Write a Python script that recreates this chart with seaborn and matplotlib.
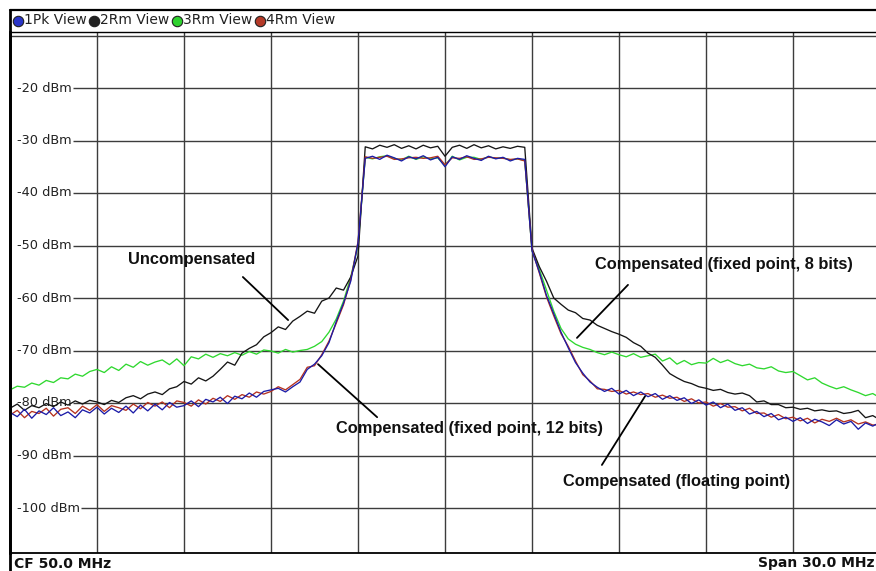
import numpy as np
import pandas as pd
import matplotlib
matplotlib.use("Agg")
import matplotlib.pyplot as plt
from matplotlib.lines import Line2D
import seaborn as sns

# Sweep: centre 50 MHz, span 30 MHz, one sample every 0.25 MHz
freq_mhz = np.round(np.arange(35.0, 65.0001, 0.25), 2)

# 1Pk View (blue) - compensated, floating point
trace_1pk = [
    -81.8, -82.6, -81.2, -82.9, -81.5, -82.2, -80.9, -82.4,
    -81.7, -82.8, -81.3, -81.9, -80.8, -82.1, -81.0, -81.8,
    -80.6, -81.9, -80.4, -81.5, -80.2, -81.3, -79.9, -80.8,
    -80.5, -79.6, -80.7, -79.3, -79.8, -78.9, -80.1, -78.7,
    -79.2, -78.1, -78.9, -77.8, -77.5, -77.2, -77.9, -76.9,
    -76.0, -73.6, -72.6, -71.0, -68.5, -64.5, -61.0, -56.8,
    -49.5, -33.4, -33.0, -33.6, -32.8, -33.3, -33.9, -33.1,
    -33.5, -32.9, -33.7, -33.2, -35.0, -33.1, -33.6, -32.9,
    -33.4, -33.8, -33.0, -33.5, -33.2, -33.9, -33.4, -33.6,
    -51.0, -55.0, -59.5, -63.0, -66.5, -69.5, -72.3, -74.3,
    -76.0, -77.0, -77.8, -77.2, -78.3, -77.6, -78.6, -77.9,
    -78.8, -78.2, -79.3, -78.6, -79.5, -79.0, -80.1, -79.4,
    -80.4, -79.8, -80.9, -80.2, -81.4, -80.9, -82.1, -81.6,
    -82.6, -82.0, -83.2, -82.7, -83.5, -82.8, -83.9, -83.1,
    -83.6, -84.3, -83.2, -84.0, -83.5, -85.0, -83.8, -84.4,
    -83.7,
]

# 2Rm View (black) - uncompensated
trace_2rm = [
    -81.0, -80.2, -81.4, -80.5, -80.9, -80.1, -80.7, -79.8,
    -80.4, -79.6, -80.2, -79.5, -79.8, -80.3, -79.5, -79.9,
    -79.0, -78.6, -79.2, -78.3, -77.9, -78.4, -77.3, -76.9,
    -75.9, -76.4, -75.2, -75.8, -74.9, -73.6, -72.2, -72.8,
    -70.5, -69.6, -68.9, -67.4, -66.6, -65.5, -66.0, -64.4,
    -63.5, -62.5, -62.9, -60.6, -60.0, -58.1, -58.5, -56.0,
    -52.0, -31.2, -31.6, -30.9, -31.3, -30.8, -31.5, -31.0,
    -31.6, -30.9, -31.4, -31.1, -33.0, -31.3, -30.9, -31.5,
    -30.8, -31.4, -31.0, -31.6, -31.2, -31.5, -31.1, -31.3,
    -50.5, -54.0, -56.8, -60.0, -61.2, -62.3, -62.8, -63.9,
    -64.2, -65.2, -65.8, -66.4, -66.9, -67.5, -68.5, -69.2,
    -70.5, -71.3, -72.8, -74.4, -75.2, -75.9, -76.3, -76.9,
    -77.2, -77.6, -77.4, -78.0, -78.3, -78.1, -78.6, -79.8,
    -79.6, -80.3, -80.3, -80.9, -80.8, -81.2, -81.0, -81.5,
    -81.3, -81.6, -81.5, -82.0, -81.8, -81.4, -82.8, -82.4,
    -83.2,
]

# 3Rm View (green) - compensated, fixed point 8 bits
trace_3rm = [
    -77.5, -76.8, -77.0, -76.2, -76.6, -75.7, -76.1, -75.2,
    -75.4, -74.5, -74.9, -74.0, -73.6, -74.2, -73.1, -73.8,
    -72.6, -73.2, -72.1, -72.8, -72.2, -71.8, -72.7, -71.6,
    -72.9, -71.2, -71.6, -70.7, -71.3, -70.6, -71.0, -70.4,
    -70.9, -70.2, -70.7, -69.9, -70.1, -70.5, -69.8, -70.3,
    -70.0, -69.8, -69.2, -68.3, -66.5, -64.0, -60.6, -56.0,
    -50.0, -33.2, -33.5, -33.1, -32.9, -33.4, -33.7, -33.0,
    -33.6, -33.1, -33.5, -33.3, -34.8, -33.0, -33.7, -33.2,
    -33.2, -33.6, -33.1, -33.4, -33.3, -33.7, -33.5, -33.8,
    -51.0, -54.5, -58.5, -62.5, -65.8, -67.8, -68.8, -69.4,
    -69.8, -70.4, -70.8, -70.3, -70.8, -71.2, -70.6, -71.3,
    -71.0, -70.7, -72.0, -71.4, -72.6, -71.9, -72.7, -72.3,
    -72.4, -71.5, -72.3, -71.8, -72.5, -72.9, -72.6, -73.3,
    -73.5, -73.1, -73.9, -74.2, -74.0, -74.8, -75.6, -75.2,
    -76.2, -76.8, -77.3, -76.9, -77.5, -78.0, -78.6, -78.2,
    -79.0,
]

# 4Rm View (red) - compensated, fixed point 12 bits
trace_4rm = [
    -82.3, -81.4, -82.8, -81.6, -82.0, -81.0, -82.5, -81.2,
    -80.9, -82.0, -80.6, -81.4, -80.3, -81.6, -80.5, -80.9,
    -81.4, -80.2, -81.1, -79.9, -80.6, -79.8, -80.9, -79.6,
    -79.9, -80.6, -79.4, -80.2, -79.1, -79.7, -78.6, -79.3,
    -78.4, -78.9, -77.9, -78.3, -77.8, -76.9, -77.5, -76.5,
    -75.5, -73.2, -72.9, -70.8, -68.2, -64.8, -61.3, -56.5,
    -49.3, -33.1, -33.4, -33.2, -33.0, -33.6, -33.5, -33.3,
    -33.2, -33.4, -33.3, -33.0, -34.6, -33.3, -33.4, -33.1,
    -33.6, -33.5, -33.2, -33.3, -33.4, -33.6, -33.5, -33.9,
    -50.8, -55.2, -59.8, -63.4, -66.8, -69.2, -72.0, -74.6,
    -75.8, -77.3, -77.4, -77.8, -77.6, -78.3, -77.9, -78.4,
    -78.2, -78.9, -78.5, -79.1, -78.9, -79.7, -79.2, -80.0,
    -79.8, -80.6, -80.1, -80.8, -80.7, -81.5, -81.0, -82.0,
    -81.9, -82.7, -82.2, -83.0, -82.7, -83.4, -82.9, -83.8,
    -83.1, -83.5, -82.9, -83.6, -83.2, -84.0, -83.6, -84.2,
    -84.1,
]

trace_names = ["1Pk View", "2Rm View", "3Rm View", "4Rm View"]
trace_colors = {"1Pk View": "#1c1ca8", "2Rm View": "#151515",
                "3Rm View": "#2fd82f", "4Rm View": "#b5321f"}
marker_colors = {"1Pk View": "#2a35c8", "2Rm View": "#222222",
                 "3Rm View": "#2ed22e", "4Rm View": "#b53a28"}

level_ticks = [-20, -30, -40, -50, -60, -70, -80, -90, -100]
freq_grid = [38, 41, 44, 47, 50, 53, 56, 59, 62]

annotations = [
    ("Uncompensated", (41.28, -52.6), (43.03, -56.0), (44.59, -64.2)),
    ("Compensated (fixed point, 8 bits)", (59.62, -53.7), (56.31, -57.5), (54.55, -67.6)),
    ("Compensated (fixed point, 12 bits)", (50.86, -84.8), (45.62, -72.6), (47.66, -82.7)),
    ("Compensated (floating point)", (58.0, -95.0), (56.90, -78.7), (55.41, -91.8)),
]

df = pd.DataFrame({
    "freq": np.tile(freq_mhz, 4),
    "level": np.concatenate([trace_1pk, trace_2rm, trace_3rm, trace_4rm]),
    "trace": np.repeat(trace_names, len(freq_mhz)),
})

sns.set_style("white")
plt.rcParams["font.family"] = ["DejaVu Sans"]

W, H = 876, 571
fig = plt.figure(figsize=(W / 100, H / 100), dpi=100)
left_px, top_px, bottom_px = 10, 32, 553
ax = fig.add_axes([left_px / W, 1 - bottom_px / H, (W - left_px) / W, (bottom_px - top_px) / H])

px_per_mhz = 29.0
px_per_db = 5.25
x_min = 35.0
x_max = x_min + (W - left_px) / px_per_mhz
y_top = -10 + (35.5 - top_px) / px_per_db
y_bot = -20 - (bottom_px - 88) / px_per_db
ax.set_xlim(x_min, x_max)
ax.set_ylim(y_bot, y_top)

grid_kw = dict(color="#3c3c3c", lw=1.0, zorder=1)
ax.vlines(freq_grid, y_bot, y_top, **grid_kw)
ax.hlines(-10, x_min, x_max, **grid_kw)

# Level labels sit inside the grid; each grid line starts where its label ends
labels = []
for lv in level_ticks:
    t = ax.text(x_min + 7 / px_per_mhz, lv, f"{lv} dBm", ha="left", va="center",
                fontsize=9.3, color="#222222", zorder=1.5)
    labels.append((lv, t))
fig.canvas.draw()
renderer = fig.canvas.get_renderer()
inv = ax.transData.inverted()
for lv, t in labels:
    bb = t.get_window_extent(renderer)
    x_start = inv.transform((bb.x1 + 1, 0))[0]
    ax.hlines(lv, x_start, x_max, **grid_kw)

sns.lineplot(data=df, x="freq", y="level", hue="trace",
             hue_order=["3Rm View", "2Rm View", "4Rm View", "1Pk View"],
             palette=trace_colors, estimator=None, sort=False,
             lw=0.95, legend=False, ax=ax, zorder=3)

for text, (tx, ty), (x0, y0), (x1, y1) in annotations:
    ax.plot([x0, x1], [y0, y1], color="black", lw=1.3, zorder=4)
    ax.text(tx, ty, text, ha="center", va="center", fontsize=11.8,
            fontweight="bold", family="Liberation Sans", color="#111111", zorder=5)

ax.set_xlabel("")
ax.set_ylabel("")
ax.set_xticks([])
ax.set_yticks([])
for side in ("right",):
    ax.spines[side].set_visible(False)
ax.spines["left"].set_linewidth(2.0)
ax.spines["top"].set_linewidth(1.0)
ax.spines["bottom"].set_linewidth(1.3)
for side in ("left", "top", "bottom"):
    ax.spines[side].set_color("black")

# Outer frame of the display: top border and left edge down to the status row
fig.add_artist(Line2D([left_px / W, 1], [1 - 10 / H, 1 - 10 / H],
                      transform=fig.transFigure, color="black", lw=1.6))
fig.add_artist(Line2D([left_px / W, left_px / W], [1 - 10 / H, 0],
                      transform=fig.transFigure, color="black", lw=2.0))

# Trace legend row
legend_x = [18, 94, 177, 260]
legend_y = 1 - 20.5 / H
for name, lx in zip(trace_names, legend_x):
    fig.add_artist(Line2D([lx / W], [legend_y], marker="o", markersize=7.5,
                          markerfacecolor=marker_colors[name], markeredgecolor="#202020",
                          markeredgewidth=0.8, transform=fig.transFigure))
    fig.text((lx + 6) / W, legend_y, name, ha="left", va="center",
             fontsize=10, color="#222222")

# Status row
fig.text(14 / W, 1 - 563.5 / H, "CF 50.0 MHz", ha="left", va="center",
         fontsize=10, fontweight="bold", color="#111111")
fig.text(875 / W, 1 - 563.5 / H, "Span 30.0 MHz", ha="right", va="center",
         fontsize=10, fontweight="bold", color="#111111")

fig.savefig("out.png", dpi=100, facecolor="white")
